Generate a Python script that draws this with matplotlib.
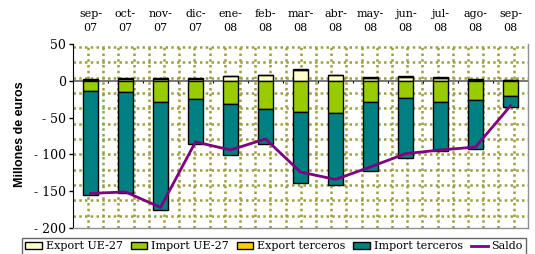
import matplotlib
matplotlib.use('Agg')
import matplotlib.pyplot as plt
import numpy as np

plt.rcParams['font.family'] = ['DejaVu Serif']

# datos (millones de euros)
meses = ['sep-\n07', 'oct-\n07', 'nov-\n07', 'dic-\n07', 'ene-\n08', 'feb-\n08', 'mar-\n08',
         'abr-\n08', 'may-\n08', 'jun-\n08', 'jul-\n08', 'ago-\n08', 'sep-\n08']
export_ue = [0.5, 3, 3, 3, 6, 8, 15, 8, 4, 5, 4, 1, 0.5]
export_terceros = [1.5, 0.5, 0.5, 0.5, 0.5, 0.5, 0.5, 0.5, 0.5, 1.5, 0.5, 1.5, 1]
import_ue = [-14.5, -15, -28.5, -25, -31, -38, -42, -44, -28.5, -24, -28.5, -26, -20.5]
import_terceros = [-140.5, -137, -146.5, -61, -70, -48, -97, -97, -93.5, -81.5, -67.5, -66, -15.5]
saldo = [-153, -151, -172, -83, -94, -79, -124, -134, -117, -99, -94, -90, -34]

x = np.arange(len(meses))
w = 0.43

fig = plt.figure(figsize=(5.35, 2.54), dpi=100)
ax = fig.add_axes([73 / 535, 26 / 254, 455 / 535, 184 / 254])
ax.set_xlim(-0.5, len(meses) - 0.5)
ax.set_ylim(-200, 50)

# fondo con trama de puntos
grid_col = '#9e9e40'
for f in np.arange(0.033, 1.0, 0.0334):
    ax.plot([f, f], [0, 1], transform=ax.transAxes, color=grid_col,
            linestyle=(0, (1, 1.3)), linewidth=1.8, zorder=0)
for f in np.arange(0.984, 0.0, -0.0833):
    ax.plot([0, 1], [f, f], transform=ax.transAxes, color=grid_col,
            linestyle=(0, (1, 1.3)), linewidth=1.8, zorder=0)

ek = dict(edgecolor='black', linewidth=1.0, zorder=3)
b1 = ax.bar(x, export_ue, w, color='#ffffcc', label='Export UE-27', **ek)
b2 = ax.bar(x, import_ue, w, color='#99cc00', label='Import UE-27', **ek)
b3 = ax.bar(x, export_terceros, w, bottom=export_ue, color='#ffcc00', label='Export terceros', **ek)
b4 = ax.bar(x, import_terceros, w, bottom=import_ue, color='#008080', label='Import terceros', **ek)
l1, = ax.plot(x, saldo, color='#800080', linewidth=2, label='Saldo', zorder=4)

# eje x en el cero
ax.axhline(0, color='#606060', linewidth=1.2, zorder=2)
ax.vlines(x[:-1] + 0.5, -3.5, 0, color='black', linewidth=0.8, zorder=2)

ax.xaxis.set_ticks_position('top')
ax.set_xticks(x)
ax.set_xticklabels(meses, fontsize=8, linespacing=1.45)
ax.tick_params(axis='x', length=0, pad=8)

ax.set_yticks(np.arange(-200, 51, 50))
ax.set_yticklabels([str(v).replace('-', '- ') if v < 0 else str(v) for v in range(-200, 51, 50)],
                   fontsize=9)
ax.tick_params(axis='y', direction='out', length=3, width=1, pad=2)

for s in ['top', 'right', 'bottom']:
    ax.spines[s].set_color('#909090')
    ax.spines[s].set_linewidth(1)
ax.spines['top'].set_visible(False)
ax.spines['left'].set_color('black')

fig.text(20 / 535, 1 - 134 / 254, 'Millones de euros', rotation=90, ha='center', va='center',
         fontsize=9, fontweight='bold', family='Liberation Sans')

leg = fig.legend([b1, b2, b3, b4, l1],
                 ['Export UE-27', 'Import UE-27', 'Export terceros', 'Import terceros', 'Saldo'],
                 loc='upper left', bbox_to_anchor=(22 / 535, 1 - 238 / 254), ncol=5,
                 fontsize=8, frameon=True, fancybox=False, edgecolor='#404040',
                 handlelength=1.5, handleheight=0.6, handletextpad=0.35, columnspacing=0.7,
                 borderpad=0.3, borderaxespad=0)
leg.get_frame().set_linewidth(1)

fig.savefig('out.png', dpi=100)
